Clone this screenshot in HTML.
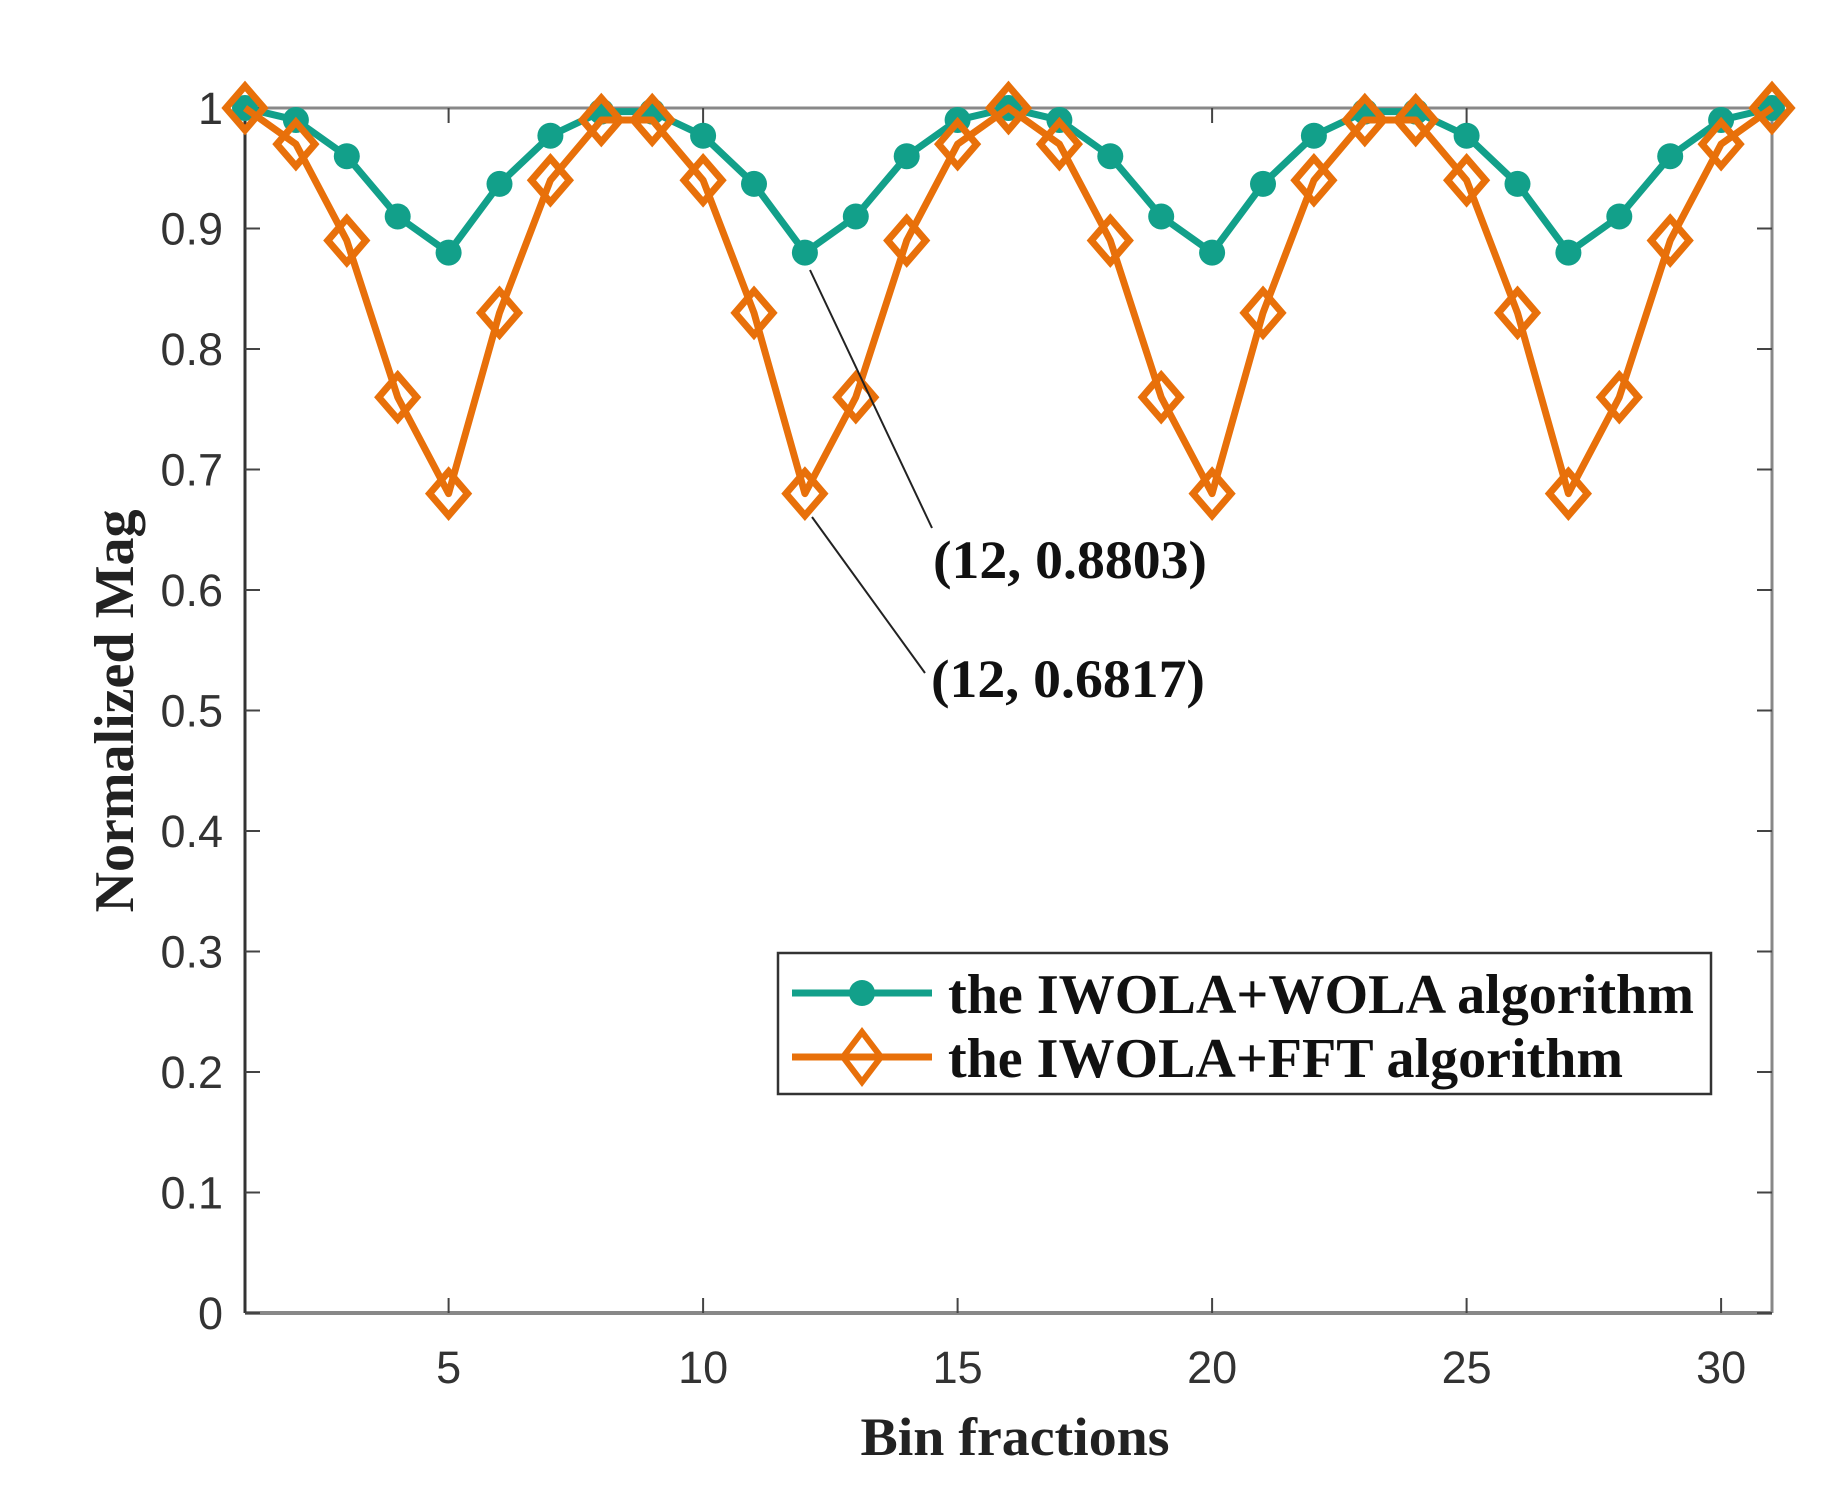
<!DOCTYPE html>
<html><head><meta charset="utf-8"><style>
html,body{margin:0;padding:0;background:#fff;}
svg{display:block;}
</style></head><body>
<svg id="s" width="1848" height="1492" viewBox="0 0 1848 1492" xmlns="http://www.w3.org/2000/svg">
<rect width="1848" height="1492" fill="#fff"/>
<g id="axes"></g>
<g id="series"></g>
<line x1="810" y1="270" x2="932" y2="528" stroke="#222" stroke-width="2"/>
<line x1="812" y1="517" x2="925" y2="673" stroke="#222" stroke-width="2"/>
<text x="933" y="578" font-family="Liberation Serif, serif" font-weight="bold" font-size="54" textLength="274" lengthAdjust="spacingAndGlyphs" fill="#111">(12, 0.8803)</text>
<text x="931" y="697" font-family="Liberation Serif, serif" font-weight="bold" font-size="54" textLength="274" lengthAdjust="spacingAndGlyphs" fill="#111">(12, 0.6817)</text>
<rect x="778" y="953" width="933" height="141" fill="#fff" stroke="#333" stroke-width="2.5"/>
<line x1="792" y1="993" x2="932" y2="993" stroke="#12a08a" stroke-width="7"/>
<circle cx="862" cy="993" r="13" fill="#12a08a"/>
<line x1="792" y1="1057" x2="932" y2="1057" stroke="#e8700a" stroke-width="7"/>
<polygon points="862,1032 881,1057 862,1082 843,1057" fill="none" stroke="#e8700a" stroke-width="6"/>
<text x="948" y="1013" font-family="Liberation Serif, serif" font-weight="bold" font-size="56" textLength="746" lengthAdjust="spacingAndGlyphs" fill="#111">the IWOLA+WOLA algorithm</text>
<text x="948" y="1077" font-family="Liberation Serif, serif" font-weight="bold" font-size="56" textLength="675" lengthAdjust="spacingAndGlyphs" fill="#111">the IWOLA+FFT algorithm</text>
<text x="1015" y="1455" text-anchor="middle" font-family="Liberation Serif, serif" font-weight="bold" font-size="54" textLength="309" lengthAdjust="spacingAndGlyphs" fill="#222">Bin fractions</text>
<text transform="translate(133,711) rotate(-90)" text-anchor="middle" font-family="Liberation Serif, serif" font-weight="bold" font-size="56" textLength="403" lengthAdjust="spacingAndGlyphs" fill="#222">Normalized Mag</text>
</svg>
<script>
const L=245,R=1772,T=108,B=1313;
const X=v=>L+(v-1)*(R-L)/30, Y=v=>B-v*(B-T);
const ns="http://www.w3.org/2000/svg";
function el(p,t,a,txt){const e=document.createElementNS(ns,t);for(const k in a)e.setAttribute(k,a[k]);if(txt!==undefined)e.textContent=txt;p.appendChild(e);return e;}
const ax=document.getElementById('axes');
el(ax,'line',{x1:L,y1:T,x2:R,y2:T,stroke:'#888',"stroke-width":3});
el(ax,'line',{x1:R,y1:T,x2:R,y2:B,stroke:'#888',"stroke-width":3});
el(ax,'line',{x1:L,y1:B,x2:R,y2:B,stroke:'#888',"stroke-width":4});
el(ax,'line',{x1:L,y1:T,x2:L,y2:B,stroke:'#333',"stroke-width":3});
for(let i=0;i<=10;i++){const v=i/10,y=Y(v);
 el(ax,'line',{x1:L,y1:y,x2:L+15,y2:y,stroke:'#444',"stroke-width":2});
 el(ax,'line',{x1:R,y1:y,x2:R-15,y2:y,stroke:'#444',"stroke-width":2});
 el(ax,'text',{x:223,y:y+16,"text-anchor":"end","font-family":"Liberation Sans, sans-serif","font-size":45,fill:'#333'},i==10?'1':(i==0?'0':v.toFixed(1)));}
for(let v=5;v<=30;v+=5){const x=X(v);
 el(ax,'line',{x1:x,y1:B,x2:x,y2:B-15,stroke:'#444',"stroke-width":2});
 el(ax,'line',{x1:x,y1:T,x2:x,y2:T+15,stroke:'#444',"stroke-width":2});
 el(ax,'text',{x:x,y:1383,"text-anchor":"middle","font-family":"Liberation Sans, sans-serif","font-size":45,fill:'#333'},String(v));}
const og=[1,.97,.89,.76,.68,.83,.94,.99,.99,.94,.83,.68,.76,.89,.97,1,.97,.89,.76,.68,.83,.94,.99,.99,.94,.83,.68,.76,.89,.97,1];
const gg=[1,.99,.96,.91,.88,.937,.977,.997,.997,.977,.937,.88,.91,.96,.99,1,.99,.96,.91,.88,.937,.977,.997,.997,.977,.937,.88,.91,.96,.99,1];
const s=document.getElementById('series');
el(s,'polyline',{points:gg.map((v,i)=>X(i+1)+','+Y(v)).join(' '),fill:'none',stroke:'#12a08a',"stroke-width":7,"stroke-linejoin":"round"});
gg.forEach((v,i)=>el(s,'circle',{cx:X(i+1),cy:Y(v),r:13,fill:'#12a08a'}));
el(s,'polyline',{points:og.map((v,i)=>X(i+1)+','+Y(v)).join(' '),fill:'none',stroke:'#e8700a',"stroke-width":7,"stroke-linejoin":"round"});
og.forEach((v,i)=>{const x=X(i+1),y=Y(v);el(s,'polygon',{points:`${x},${y-22} ${x+19},${y} ${x},${y+22} ${x-19},${y}`,fill:'none',stroke:'#e8700a',"stroke-width":7});});
</script>
</body></html>
